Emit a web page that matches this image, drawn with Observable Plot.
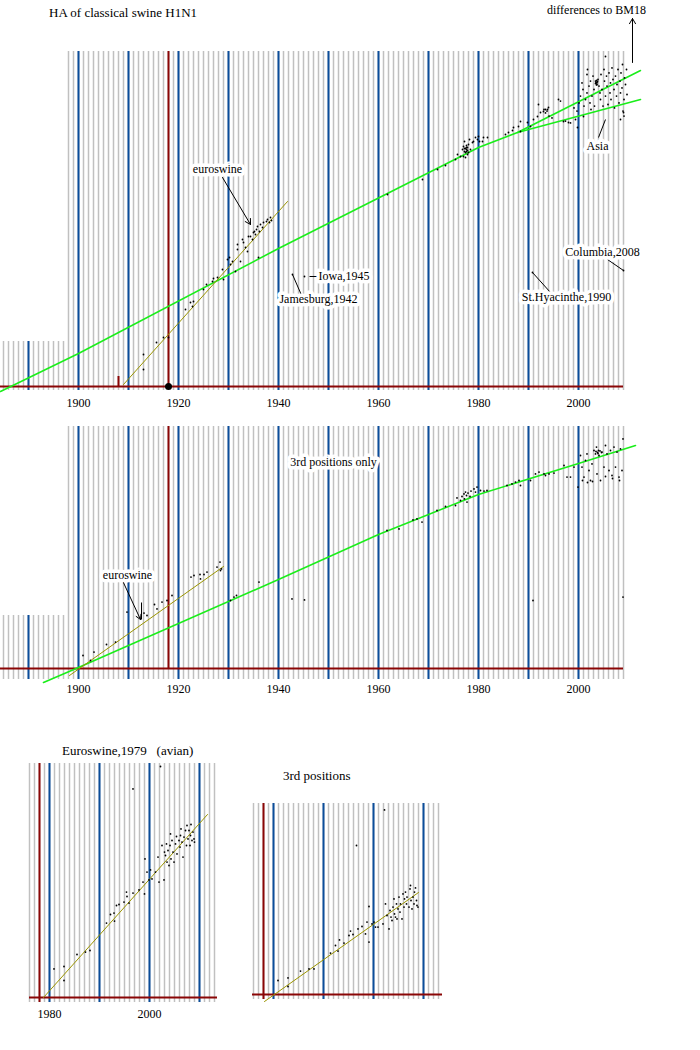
<!DOCTYPE html>
<html><head><meta charset="utf-8">
<script src="https://cdn.jsdelivr.net/npm/d3@7"></script>
<script src="https://cdn.jsdelivr.net/npm/@observablehq/plot@0.6"></script>
<style>
body{margin:0;background:#fff;}
#page{position:relative;width:700px;height:1050px;font-family:"Liberation Serif",serif;background:#fff;}
.ttl{position:absolute;font-size:13px;white-space:pre;line-height:1;color:#000;}
</style></head>
<body><div id="page">
<div class="ttl" style="left:49px;top:6px;">HA of classical swine H1N1</div>
<div class="ttl" style="left:62px;top:744px;">Euroswine,1979   (avian)</div>
<div class="ttl" style="left:283px;top:769px;">3rd positions</div>
</div>
<script>
// ---------- data ----------
const xTicks = [1900, 1920, 1940, 1960, 1980, 2000];
const xTicksSmall = [1980, 2000];
const decades = [1890, 1900, 1910, 1920, 1930, 1940, 1950, 1960, 1970, 1980, 1990, 2000];
const decadesSmall = [1980, 1990, 2000, 2010];

// top panel: HA, differences to BM18
const topGreen = [[1884.4,-2.5],[1900,16.5],[1940,69],[1980,119.5],[1987.8,127],[2012.4,158]];
const topGreenAsia = [[1987.8,127],[2012.4,143.5]];
const topOlive = [[1909,1],[1941.8,92.5]];
const topEuro = [[1913,16],[1913,8.5],[1915.6,22],[1917,24.5],[1918,24.5],[1921.4,38.5],[1922.4,42],[1922.8,40],[1923,42.5],[1925,48.5],[1925.6,51],[1926.8,52.5],[1927,54],[1927.8,54.5],[1928.8,58.5],[1929,53.5],[1929.8,63.5],[1930.2,64.5],[1930.4,61],[1930.8,62.5],[1931.4,57.5],[1931.8,68.5],[1931.8,71],[1932.4,62.5],[1932.8,73.5],[1933,72],[1933.4,69.5],[1933.8,67.5],[1934,75],[1934.4,75],[1934.8,73.5],[1935,77],[1935.2,77.5],[1935.4,76],[1935.6,78.5],[1935.8,80],[1936,64.5],[1936.2,77.5],[1936.4,81],[1936.8,79.5],[1937,82],[1937.6,82.5],[1937.8,83.5],[1938.2,82],[1938.4,84.5],[1938.6,83]];
const topSingles = [[1942.8,56],[1945.2,55],[1990.8,57],[2009,58],[1961.8,96],[1968.8,103.5],[1971.8,108.5]];
const top1977 = [[1973.4,110.5],[1975.4,113.5],[1975.8,116],[1976.4,115],[1976.8,118.5],[1977,120],[1977.2,122.5],[1977.4,117],[1977.6,117.5],[1977.8,119.5],[1977.8,116],[1978,121],[1978.2,123.5],[1978.4,118.5],[1978.8,122],[1979,122.5],[1979.4,124.5],[1979.8,123.5],[1980,125],[1980.2,122.5],[1980.8,122.5],[1981,124.5],[1981.8,124.5],[1977,115],[1977.4,114.5],[1977.2,117.5],[1977.6,119.5],[1978,117],[1977.4,119],[1977.6,118.5],[1977.8,118],[1977.2,119],[1977.6,120.5]];
const top1990 = [[1985.4,126],[1986,127],[1986.8,128],[1987,129.5],[1988,130],[1988.4,127.5],[1988.4,132.5],[1989.8,132],[1990.4,130],[1991,133.5],[1991.8,135],[1992,141],[1992.4,137],[1993,137.5],[1993.4,138.5],[1993.8,138.5],[1994,139.5],[1996,143.5],[1997,132.5],[1998,132],[1999.8,129.5]];
const topAsia = [[1993.1,138.5],[1993.4,136.8],[1993.7,137.7],[1994.1,135.2],[1994.7,134.3],[1996.4,142.7],[1997.4,132.7],[1998.4,131.8],[1999.1,139.3],[1999.4,133.5],[1999.7,137.7],[2000.1,141.8],[2000.4,145.2],[2000.7,151.8],[2000.9,148.5],[2001.1,140.2],[2001.4,143.5],[2001.7,156],[2001.7,146.8],[2002.1,150.2],[2002.3,141.8],[2002.4,152.7],[2002.5,138.5],[2002.7,145.2],[2002.9,155.2],[2003.1,148.5],[2003.2,140.2],[2003.4,152.7],[2003.6,151.8],[2003.7,151],[2003.9,153.5],[2004.1,150.2],[2004.3,146.8],[2004.4,143.5],[2004.5,156],[2004.7,148.5],[2004.9,140.2],[2005.1,158.5],[2005.2,152.7],[2005.4,145.2],[2005.6,155.2],[2005.7,150.2],[2005.9,141],[2006.1,156.8],[2006.3,146.8],[2006.4,151.8],[2006.5,143.5],[2006.7,159.3],[2006.9,153.5],[2007.1,148.5],[2007.2,139.3],[2007.4,155.2],[2007.6,145.2],[2007.7,151],[2007.9,158.5],[2008.1,141.8],[2008.3,152.7],[2008.4,146.8],[2008.5,156.8],[2008.7,149.3],[2008.9,137.7],[2009.1,143.5],[2009.2,154.3],[2009.4,151],[2009.6,158.5],[2009.7,146],[2008.4,133.5],[2009.1,135.2],[2003.5,152],[2003.6,153],[2003.8,152.5],[2003.7,152],[2003.4,151.5],[2003.6,150.8],[2005.4,165],[2001.8,158.5],[2008.8,161],[2001,135],[2009,137]];
const topLabels = [["euroswine",1927.8,108.5],["Jamesburg,1942",1948,43.5],["St.Hyacinthe,1990",1997.6,44.5],["Columbia,2008",2004.8,67],["Asia",2003.8,120],["differences to BM18",2003.6,188]];
const topLabelsStart = [["Iowa,1945",1948,55]];
const topPointers = [[1942.8,56,1944.8,44.5],[1946.2,55,1947.8,55],[1990.8,57,1994.4,47],[2005.8,63.5,2009,58],[2004,124.5,2005.4,133.5]];
const topArrows = [[1928.8,104.5,1934.4,81],[2010.8,162,2010.8,184]];

// middle panel: 3rd positions only
const midGreen = [[1893,-7],[1900,0.5],[1940,44.5],[1960,67],[1980,87],[2000,102.5],[2011.4,111.5]];
const midOlive = [[1898.2,-3.5],[1929,51]];
const midEuro = [[1900.9,6.5],[1903.1,8.2],[1902.4,4],[1905.6,12],[1907.4,13.2],[1909.7,28.2],[1913.1,27.7],[1913.7,26.5],[1915.2,32],[1915.7,29.8],[1916.7,33.2],[1917.7,34],[1918.7,36.5],[1922.5,45.7],[1923.1,46.5],[1924.3,47],[1924.4,44.8],[1925.1,47],[1925.7,48.2],[1927.7,50.7],[1928.3,53.2],[1928.4,49],[1928.6,49.8]];
const midOther = [[1931.1,35.7],[1930.4,34],[1931.6,36.5],[1936.1,43.2],[1942.7,34.8],[1945.2,34.3],[1961.7,69],[1964.1,69.8],[1966.9,74.3],[1967.7,74.8],[1968.7,73.2],[1971.7,79],[1973.4,81],[1975.4,81.5],[1975.7,85.3],[1976.4,84],[1976.7,86],[1977.1,87.3],[1977.2,84.8],[1977.4,88.2],[1977.6,86.5],[1977.7,83.2],[1977.9,87.7],[1978.3,86],[1978.5,88.7],[1979.1,89.8],[1979.4,88.2],[1979.7,90.7],[1980.4,89],[1981.1,88.7],[1981.7,89],[1985.7,91.5],[1986.7,92.3],[1987.4,93.2],[1988.1,94],[1988.4,91.5],[1990.4,94],[1990.9,34],[1991.4,97.3],[1992.1,98.2],[1993.1,97.3],[1993.4,96.5],[1994.1,97.3],[1995.1,97.7],[1997.1,101.5],[1997.7,95.7],[1998.4,95.7],[1999.1,100.7],[1999.9,90.7],[2000.4,106.5],[2000.7,100.7],[2001.1,95.7],[2001.4,104],[2001.7,107.3],[2002.1,99],[2002.4,94],[2002.7,102.3],[2003.1,109],[2003.4,107.3],[2003.6,110.7],[2003.7,97.3],[2004.1,106.5],[2004.4,94],[2004.7,108.2],[2005.1,100.7],[2005.4,111.5],[2005.7,107.3],[2006.1,99],[2006.4,109],[2006.7,96.5],[2007.1,110.7],[2007.4,100.7],[2007.7,108.2],[2008.1,95.7],[2008.4,109.8],[2008.7,99],[2008.9,114.8],[2008.9,35.7],[2003.5,108.5],[2003.8,108],[2004,109],[2003.9,107.5],[2004.3,108.8],[2004.6,108],[2000.8,94],[2001.8,93],[2002.8,93.5],[2005.4,96],[2006.8,95],[2008.2,94]];
const midLabels = [["euroswine",1909.8,46.5],["3rd positions only",1951,103]];
const midArrows = [[1908.8,44,1912.4,24.5]];
const midPointers = [[1912.6,33,1912.6,24.5]];

// bottom-left: Euroswine,1979 (avian)
const blOlive = [[1978.8,0],[2011.6,91.5]];
const blPoints = [[1980.9,14.3],[1982.9,15.5],[1982.9,8.5],[1985.5,21.5],[1987.2,22.7],[1988.1,23.5],[1991.4,37.2],[1992.2,41.5],[1992.9,42.2],[1993,38.2],[1993.4,46],[1993.9,46.5],[1994.9,47.7],[1995.4,52.7],[1995.5,50.5],[1995.9,47.2],[1996.7,104.3],[1996.7,52.2],[1997.9,53.8],[1998.7,57.7],[1999,51.8],[1999.1,69.3],[1999.5,62.7],[1999.9,58.8],[2000.2,63.8],[2000.5,59.3],[2001.2,62.7],[2001.7,70.2],[2001.9,57.7],[2002.2,115.5],[2002.5,76],[2002.9,58.8],[2003,72.7],[2003.2,71],[2003.4,76.8],[2003.5,67.7],[2003.7,73.5],[2003.9,66],[2004.1,76],[2004.2,81.8],[2004.3,69.3],[2004.5,78.5],[2004.7,72.7],[2004.9,67.7],[2005.2,76.8],[2005.4,80.5],[2005.5,71.8],[2005.9,78.5],[2006.1,75.2],[2006.2,81],[2006.3,84.3],[2006.5,77.7],[2006.7,70.2],[2006.9,80.2],[2007.2,83.5],[2007.4,76],[2007.5,86],[2007.7,79.3],[2007.9,83.5],[2008.1,76],[2008.2,81],[2008.3,86.5],[2008.5,78.5],[2008.7,82.7],[2008.9,79.3],[2009,77.7]];

// bottom-right: 3rd positions
const brOlive = [[1978.2,-3.5],[2009,51]];
const brPoints = [[1980.9,7],[1982.9,8.3],[1982.9,4],[1985.4,11.7],[1987.1,12.8],[1988.1,12.8],[1991.4,20.7],[1992.4,24.5],[1992.9,21.7],[1993.2,27.3],[1994.1,25.7],[1995.1,29.5],[1995.4,31.7],[1995.9,30],[1996.6,74.5],[1996.9,32.8],[1997.7,34],[1998.4,30.3],[1998.7,36.2],[1999.1,44],[1999.1,26.2],[1999.7,35.3],[2000.1,36.2],[2000.4,33.7],[2000.9,33.7],[2001.9,35.3],[2002.2,92.3],[2002.4,45.3],[2002.7,39.5],[2003.1,32.8],[2003.3,42],[2003.5,38.7],[2003.7,37],[2003.9,43.7],[2004.1,47.8],[2004.2,40.3],[2004.4,38.7],[2004.6,45.3],[2004.7,37.8],[2004.9,42.8],[2005.1,48.7],[2005.3,41.2],[2005.4,45.3],[2005.7,37.8],[2005.9,50.3],[2006.1,43.7],[2006.2,47.8],[2006.4,51.2],[2006.6,45.3],[2006.7,48.7],[2007.1,43.7],[2007.3,52.8],[2007.4,54.5],[2007.5,47],[2007.7,42.8],[2007.9,48.7],[2008.1,45.3],[2008.2,51.2],[2008.4,53.3],[2008.6,47],[2008.7,44.5],[2008.9,43.7]];

// ---------- styling ----------
const GRAY = "#c0c0c0", BLUE = "#0b4d9a", RED = "#8a0606", GREEN = "#1aee1a", OLIVE = "#9a9400";
const XY = {x: d => d[0], y: d => d[1]};
const SEG = {x1: d => d[0], y1: d => d[1], x2: d => d[2], y2: d => d[3]};
const FONT = "Liberation Serif";

function grid(years, lo, hi) {
  return Plot.ruleX(years, {y1: lo, y2: hi, stroke: GRAY, strokeWidth: 1.5});
}
function blue(years, lo, hi) {
  return Plot.ruleX(years, {y1: lo, y2: hi, stroke: BLUE, strokeWidth: 2});
}
function panel(o) {
  const opts = {
    width: o.width, height: o.height,
    marginTop: 0, marginLeft: 0, marginRight: 0, marginBottom: o.height - o.base,
    x: {domain: o.xDomain, range: o.xRange},
    y: {domain: [0, 100], range: [o.base, o.base - 200], axis: null},
    style: {fontFamily: FONT, fontSize: "12px", background: "transparent", overflow: "visible", color: "#000"},
    marks: o.marks
  };
  if (!o.ticks) opts.x.axis = null;
  else opts.marks = [...o.marks, Plot.axisX(o.ticks, {tickSize: 0, tickPadding: o.pad, tickFormat: d => String(d), label: null, fontSize: 12, fill: "#000"})];
  const el = Plot.plot(opts);
  el.style.position = "absolute";
  el.style.left = o.left + "px";
  el.style.top = o.top + "px";
  return el;
}
const page = document.getElementById("page");
const range = (a, b) => d3.range(a, b + 1);

// ---------- top ----------
page.append(panel({
  width: 700, height: 415, top: 0, left: 0, base: 386,
  xDomain: [1900, 2000], xRange: [78, 578], ticks: xTicks, pad: 12,
  marks: [
    grid(range(1885, 1897), -2, 22.5),
    grid(range(1898, 2009), -2, 167.5),
    blue([1890], -2, 22.5),
    blue(decades.filter(d => d >= 1900), -2, 167.5),
    Plot.ruleX([1918], {y1: 0, y2: 167.5, stroke: RED, strokeWidth: 2}),
    Plot.ruleX([1908], {y1: 0, y2: 5, stroke: RED, strokeWidth: 2}),
    Plot.ruleY([0], {x1: 1884, x2: 2009, stroke: RED, strokeWidth: 2}),
    Plot.line(topGreen, {...XY, stroke: GREEN, strokeWidth: 1.6}),
    Plot.line(topGreenAsia, {...XY, stroke: GREEN, strokeWidth: 1.6}),
    Plot.line(topOlive, {...XY, stroke: OLIVE, strokeWidth: 1}),
    Plot.dot([...topEuro, ...topSingles, ...top1977, ...top1990, ...topAsia], {...XY, r: 0.9, fill: "#000"}),
    Plot.dot([[1918, 0]], {...XY, r: 3.5, fill: "#000"}),
    Plot.link(topPointers, {...SEG, stroke: "#000", strokeWidth: 1}),
    Plot.arrow(topArrows, {...SEG, stroke: "#000", strokeWidth: 1, headLength: 9}),
    Plot.text(topLabels, {x: d => d[1], y: d => d[2], text: d => d[0], fill: "#000", stroke: "#fff", strokeWidth: 7, fontSize: 12}),
    Plot.text(topLabelsStart, {x: d => d[1], y: d => d[2], text: d => d[0], textAnchor: "start", fill: "#000", stroke: "#fff", strokeWidth: 7, fontSize: 12})
  ]
}));

// ---------- middle ----------
page.append(panel({
  width: 700, height: 290, top: 415, left: 0, base: 253,
  xDomain: [1900, 2000], xRange: [78, 578], ticks: xTicks, pad: 16,
  marks: [
    grid(range(1885, 1897), -5.5, 26.5),
    grid(range(1898, 2009), -5.5, 121),
    blue([1890], -5.5, 26.5),
    blue(decades.filter(d => d >= 1900), -5.5, 121),
    Plot.ruleX([1918], {y1: 0, y2: 121, stroke: RED, strokeWidth: 2}),
    Plot.ruleY([0], {x1: 1884, x2: 2009, stroke: RED, strokeWidth: 2}),
    Plot.line(midGreen, {...XY, stroke: GREEN, strokeWidth: 1.6}),
    Plot.line(midOlive, {...XY, stroke: OLIVE, strokeWidth: 1}),
    Plot.dot([...midEuro, ...midOther], {...XY, r: 0.9, fill: "#000"}),
    Plot.link(midPointers, {...SEG, stroke: "#000", strokeWidth: 1}),
    Plot.arrow(midArrows, {...SEG, stroke: "#000", strokeWidth: 1, headLength: 8}),
    Plot.text(midLabels, {x: d => d[1], y: d => d[2], text: d => d[0], fill: "#000", stroke: "#fff", strokeWidth: 7, fontSize: 12})
  ]
}));

// ---------- bottom-left ----------
page.append(panel({
  width: 240, height: 290, top: 740, left: 0, base: 257,
  xDomain: [1980, 2000], xRange: [49, 149], ticks: xTicksSmall, pad: 12,
  marks: [
    grid(range(1976, 2013), -2.5, 117),
    blue(decadesSmall, -2.5, 117),
    Plot.ruleX([1978], {y1: -2.5, y2: 117, stroke: RED, strokeWidth: 2}),
    Plot.ruleY([0], {x1: 1976, x2: 2013.6, stroke: RED, strokeWidth: 2}),
    Plot.line(blOlive, {...XY, stroke: OLIVE, strokeWidth: 1}),
    Plot.dot(blPoints, {...XY, r: 0.9, fill: "#000"})
  ]
}));

// ---------- bottom-right ----------
page.append(panel({
  width: 240, height: 260, top: 760, left: 240, base: 234,
  xDomain: [1980, 2000], xRange: [33, 133],
  marks: [
    grid(range(1976, 2013), -2.5, 95.5),
    blue(decadesSmall, -2.5, 95.5),
    Plot.ruleX([1978], {y1: -2.5, y2: 95.5, stroke: RED, strokeWidth: 2}),
    Plot.ruleY([0], {x1: 1975.8, x2: 2013.8, stroke: RED, strokeWidth: 2}),
    Plot.line(brOlive, {...XY, stroke: OLIVE, strokeWidth: 1}),
    Plot.dot(brPoints, {...XY, r: 0.9, fill: "#000"})
  ]
}));
</script>
</body></html>
